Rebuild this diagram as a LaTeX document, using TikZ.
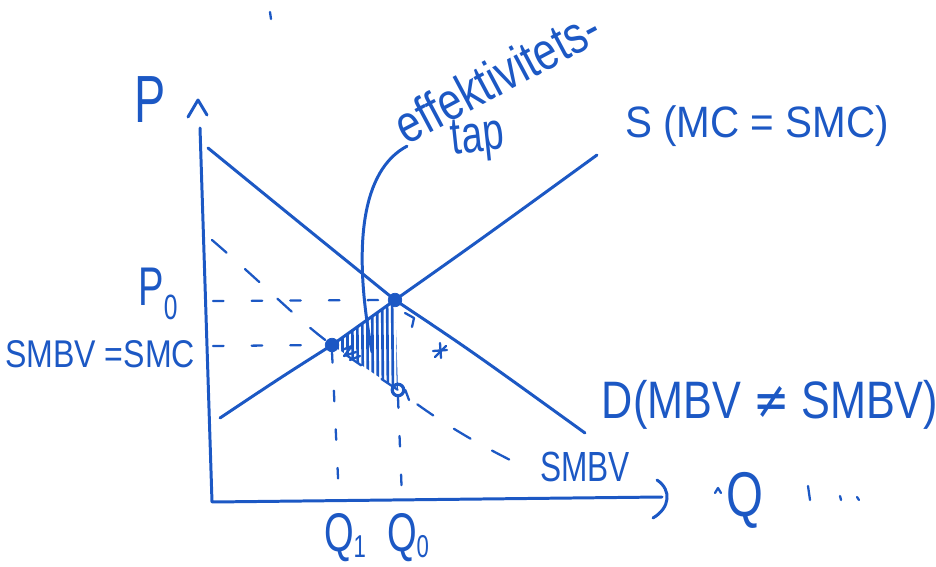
\documentclass[tikz,border=0pt]{standalone}
\usepackage{fontspec}
\setmainfont{Liberation Sans}
\newfontfamily\symf{DejaVu Sans}
\definecolor{hb}{RGB}{28,88,196}
\newcommand\hw[2][0.82]{\scalebox{#1}[1]{#2}}
\begin{document}
\begin{tikzpicture}[x=0.02cm,y=-0.02cm,
  pen/.style={draw=hb,line width=1.7pt,line cap=round,line join=round},
  thin pen/.style={draw=hb,line width=1.3pt,line cap=round,line join=round},
  dsh/.style={draw=hb,line width=1.3pt,line cap=round,dash pattern=on 6pt off 16pt},
  lbl/.style={text=hb,inner sep=0pt},
  dotn/.style={circle,fill=hb,draw=hb,inner sep=0pt,minimum size=0.27cm}]
\useasboundingbox (0,0) rectangle (936,567);

% axes
\coordinate (O) at (212,502);
\coordinate (ytop) at (200,128);
\coordinate (xend) at (662,497);
\draw[pen] (ytop) -- (O) -- (xend);
\draw[pen] (188,117) -- (198,100) -- (207,115);
\draw[pen] (657,480) .. controls (672,490) and (670,508) .. (653,518);

% points
\node[dotn] (E0) at (395,300) {};
\node[dotn] (E1) at (332,345) {};
\node[circle,draw=hb,line width=1.8pt,inner sep=0pt,minimum size=0.23cm] (A) at (398,390) {};
\draw[thin pen] (A.east) -- (409,400);

% supply and demand
\coordinate (S0) at (220,418);
\coordinate (S1) at (597,155);
\draw[pen] (S0) .. controls (280,378) .. (E1.center) -- (E0.center) .. controls (480,240) .. (S1);
\coordinate (D0) at (208,148);
\coordinate (D1) at (585,433);
\draw[pen] (D0) .. controls (290,215) .. (E0.center) .. controls (470,350) .. (D1);

% hatching (efficiency loss)
\begin{scope}
\clip (E1.center) -- (E0.center) -- (A.center) -- cycle;
\foreach \x in {337,342,...,400} {\draw[thin pen,line width=1.5pt] (\x,290) -- (\x+1,395);}
\end{scope}
\draw[thin pen] (342,350) -- (352,346) -- (344,356) -- (356,352);
\draw[thin pen] (350,360) -- (360,356);

% dashed guides
\draw[dsh] (213,301) -- (E0.west);
\draw[dsh] (213,346) -- (E1.west);
\draw[dsh] (E1.south) -- (339,498);
\draw[dsh] (A.south) -- (402,498);
\draw[dsh,dash pattern=on 11pt off 14pt] (212,240) .. controls (270,290) and (300,322) .. (E1.center) .. controls (360,365) and (380,378) .. (A.center) .. controls (450,430) and (490,450) .. (530,470);
\draw[thin pen] (405,313) -- (414,318) -- (412,327);

% star mark
\draw[thin pen] (433,351) -- (447,350);
\draw[thin pen] (440,343) -- (441,358);
\draw[thin pen] (435,357) -- (446,346);

% labels
\node[lbl,font=\fontsize{38}{40}\selectfont] (P) at (150,100) {\hw[0.7]{P}};
\node[lbl,font=\fontsize{31}{33}\selectfont] (P0) at (158,294) {\hw[0.7]{P\raisebox{-0.25em}{\fontsize{20}{20}\selectfont 0}}};
\node[lbl,font=\fontsize{22}{24}\selectfont] (smbvsmc) at (100,354) {\hw[0.83]{SMBV =SMC}};
\node[lbl,font=\fontsize{25}{27}\selectfont] (Slab) at (757,126) {\hw[0.92]{S (MC = SMC)}};
\node[lbl,font=\fontsize{30}{32}\selectfont] (Dlab) at (770,405) {\hw[0.82]{D(MBV {\symf ≠} SMBV)}};
\node[lbl,font=\fontsize{24}{26}\selectfont] (SMBV) at (585,467) {\hw[0.75]{SMBV}};
\node[lbl,font=\fontsize{31}{33}\selectfont] (Q1) at (345,538) {\hw[0.7]{Q\raisebox{-0.1em}{\fontsize{18}{18}\selectfont 1}}};
\node[lbl,font=\fontsize{31}{33}\selectfont] (Q0) at (408,538) {\hw[0.7]{Q\raisebox{-0.1em}{\fontsize{18}{18}\selectfont 0}}};
\node[lbl,font=\fontsize{36}{38}\selectfont] (Q) at (745,500) {\hw[0.75]{Q}};
\node[lbl,font=\fontsize{30}{32}\selectfont,rotate=28] (eff) at (497,76) {\hw[0.8]{effektivitets-}};
\node[lbl,font=\fontsize{30}{32}\selectfont,rotate=6] (tap) at (478,140) {\hw[0.72]{tap}};

% pointer from label to the loss area
\coordinate (loss) at (372,352);
\draw[pen] (eff.south west) .. controls (362,170) and (352,245) .. (loss);

% stray marks
\draw[thin pen] (270,12) -- (271,19);
\draw[thin pen] (715,493) -- (718,488) -- (721,493);
\draw[thin pen] (808,486) -- (810,500);
\draw[thin pen] (840,496) -- (841,500);
\draw[thin pen] (857,497) -- (859,500);
\end{tikzpicture}
\end{document}
